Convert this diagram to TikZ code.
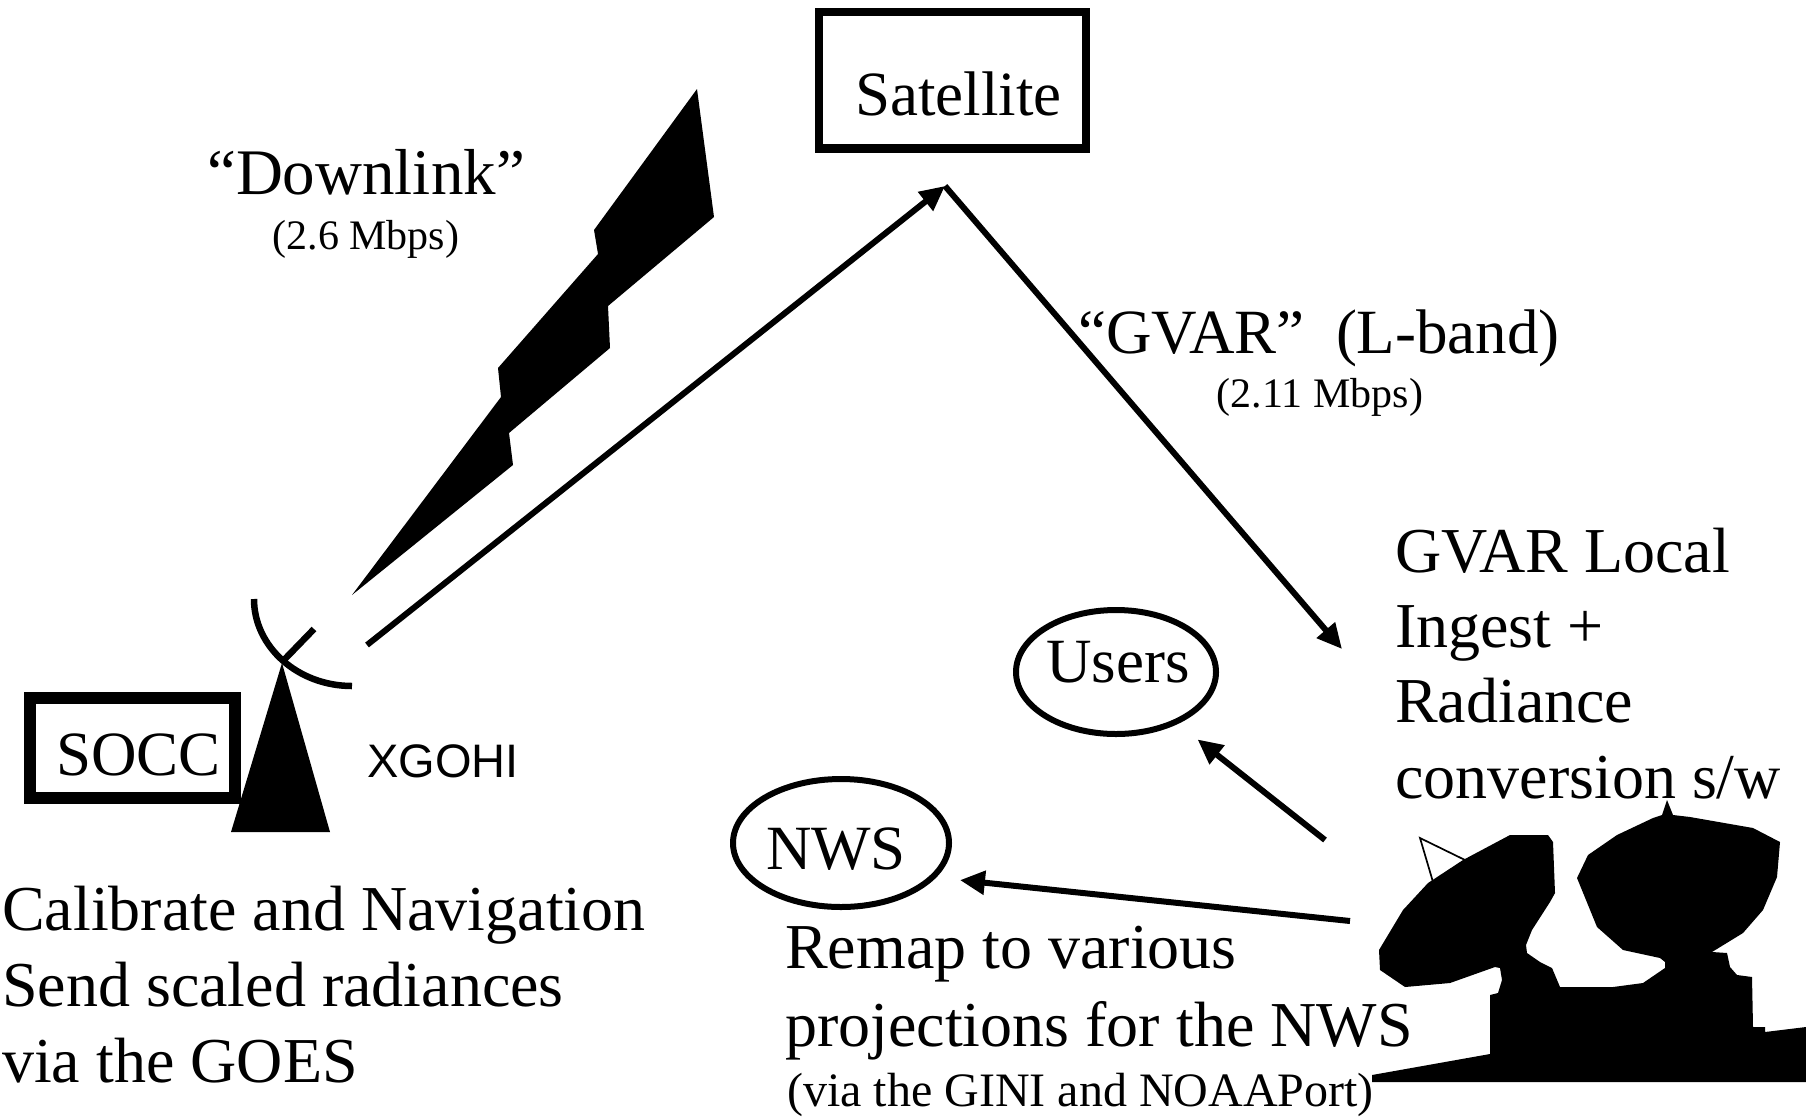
\documentclass[tikz,border=0pt]{standalone}
\usepackage{fontspec}
\setmainfont{Liberation Serif}
\newfontfamily\sansfam{Liberation Sans}
\usetikzlibrary{arrows.meta,shapes.geometric}
\newcommand\txtL{\fontsize{63}{76}\selectfont}
\newcommand\txtX{\fontsize{64}{76}\selectfont}
\newcommand\txtM{\fontsize{48}{58}\selectfont}
\newcommand\txtS{\fontsize{42}{50}\selectfont}
\begin{document}
\begin{tikzpicture}[x=1pt,y=-1pt,
  lbl/.style={inner sep=0pt, font=\txtL},
  wide/.style={inner sep=0pt, font=\txtX},
  small/.style={inner sep=0pt, font=\txtS},
  boxed/.style={draw, rectangle, inner sep=0pt},
  oval/.style={draw, ellipse, line width=6pt, inner sep=0pt},
  arr/.style={line width=6pt, -{Triangle[length=25pt,width=23pt]}},
  stroke/.style={line width=6.5pt}]
\useasboundingbox (0,0) rectangle (1806,1117);

% satellite
\node[boxed, line width=8.5pt, minimum width=267pt, minimum height=136.5pt] (sat) at (952.5,80) {};
\node[lbl, anchor=base west] (sattext) at (855,115) {Satellite};

% downlink bolt
\fill (697,89) -- (594,230) -- (598,254) -- (498,368) -- (501,397) -- (352,595)
  -- (513,465) -- (509,433) -- (610,348) -- (608,306) -- (714,217) -- cycle;
\node[inner sep=0pt, font=\fontsize{65}{76}\selectfont, anchor=base west] (dl) at (207,194) {“Downlink”};
\node[small, anchor=base] (dlrate) at (366,249) {(2.6 Mbps)};

% SOCC and its antenna
\node[boxed, line width=12pt, minimum width=205pt, minimum height=100pt] (socc) at (132.5,748) {};
\node[lbl, anchor=base west] (socctext) at (56,775) {SOCC};
\fill (282,663) -- (231,832) -- (330,832) -- cycle;
\draw[stroke] (254,599) .. controls (254,647) and (298,686) .. (352,686);
\draw[stroke] (282,662) -- (314,629);
\node[inner sep=0pt, font=\sansfam\fontsize{47}{56}\selectfont, anchor=base west] (xgohi) at (367,777) {XGOHI};
% (base anchor of a multi-line node sits on its last line)
\node[wide, anchor=base west, align=left] (socctask) at (2,1082)
  {Calibrate and Navigation\\Send scaled radiances\\via the GOES};

% links through the satellite
\coordinate (upsrc) at (367,645);
\coordinate (satport) at (945,186);
\coordinate (gvartip) at (1342,649);
\draw[arr] (upsrc) -- (satport);
\draw[arr] (satport) -- (gvartip);
\node[lbl, anchor=base west] (gvar) at (1078,353) {“GVAR”\ \ (L-band)};
\node[small, anchor=base] (gvarrate) at (1320,407) {(2.11 Mbps)};

% ground station
\node[inner sep=0pt, font=\fontsize{64}{75.3}\selectfont, anchor=base west, align=left] (ingest) at (1395,798)
  {GVAR Local\\Ingest +\\Radiance\\conversion s/w};
\fill (1379,950) -- (1403,910) -- (1428,883) -- (1463,860) -- (1510,835) -- (1548,835)
  -- (1553,842) -- (1555,893) -- (1550,902) -- (1532,930) -- (1526,945) -- (1527,953)
  -- (1540,962) -- (1552,968) -- (1560,987) -- (1613,987) -- (1643,983) -- (1665,968)
  -- (1665,962) -- (1660,958) -- (1623,950) -- (1597,927) -- (1577,878) -- (1588,855)
  -- (1617,835) -- (1653,818) -- (1662,815) -- (1667,800) -- (1673,815) -- (1690,817)
  -- (1753,828) -- (1780,842) -- (1777,877) -- (1763,910) -- (1743,933) -- (1712,952)
  -- (1727,953) -- (1730,967) -- (1737,975) -- (1752,977) -- (1753,1027) -- (1765,1027)
  -- (1765,1032) -- (1806,1027) -- (1806,1082) -- (1372,1082) -- (1372,1075)
  -- (1490,1054) -- (1490,995) -- (1498,993) -- (1502,980) -- (1500,968) -- (1495,967)
  -- (1450,983) -- (1405,987) -- (1380,970) -- cycle;
\draw[line width=1.7pt] (1433,882) -- (1420,838) -- (1465,860);

% users and NWS
\node[oval, minimum width=200pt, minimum height=124pt] (users) at (1116,672) {};
\node[lbl, anchor=base] (userstext) at (1118,682) {Users};
\node[oval, minimum width=216pt, minimum height=128pt] (nws) at (841,843) {};
\node[lbl, anchor=base] (nwstext) at (836,869) {NWS};
\coordinate (usrsrc) at (1325,840);
\coordinate (nwssrc) at (1350,921);
\draw[arr, shorten >=25pt] (usrsrc) -- (users.-40);
\draw[arr, shorten >=24pt] (nwssrc) -- (nws.-20);
\node[inner sep=0pt, font=\fontsize{64}{78}\selectfont, anchor=base west, align=left] (remap) at (785,1046)
  {Remap to various\\projections for the NWS};
\node[inner sep=0pt, font=\txtM, anchor=base west] (via) at (787,1106) {(via the GINI and NOAAPort)};
\end{tikzpicture}
\end{document}
